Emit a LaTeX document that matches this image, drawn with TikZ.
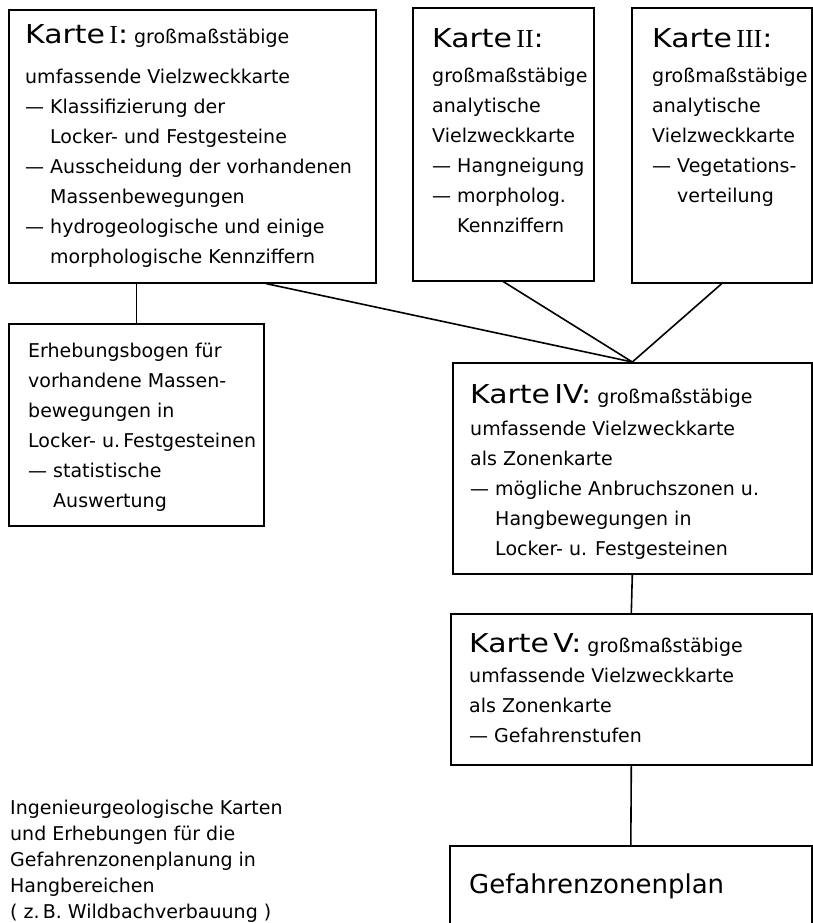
\documentclass[tikz,border=0pt]{standalone}
\usepackage{fontspec}
\setmainfont{DejaVu Sans}
\newfontfamily\titlefont[FakeStretch=1.15]{DejaVu Sans}
\newfontfamily\numfont{Liberation Serif}
\usetikzlibrary{calc,positioning}
\newcommand{\karte}[1]{{\titlefont\fontsize{26}{30}\selectfont Karte\,#1:}}
\newcommand{\rnum}[1]{{\numfont #1}}
\newcommand{\ein}{\phantom{— }}
\tikzset{
	box/.style={draw,line width=1.6pt,inner sep=0pt,anchor=north west},
	txt/.style={align=left,inner sep=0pt,anchor=base west,font=\fontsize{19}{30}\selectfont},
	link/.style={line width=1.6pt}
}

\begin{document}
\begin{tikzpicture}[x=1pt,y=-1pt]
			\useasboundingbox (0,0) rectangle (812,923);
			% Kastenrahmen
			\node[box,minimum width=367pt,minimum height=273pt] (k1) at (8,9) {};
			\node[box,minimum width=181pt,minimum height=273pt] (k2) at (412,7) {};
			\node[box,minimum width=180pt,minimum height=275pt] (k3) at (631,7) {};
			\node[box,minimum width=255pt,minimum height=202pt] (erh) at (8,323) {};
			\node[box,minimum width=359pt,minimum height=211pt] (k4) at (452,362) {};
			\node[box,minimum width=361pt,minimum height=151pt] (k5) at (450,613) {};
			\node[box,minimum width=362pt,minimum height=95pt] (plan) at (449,845) {};
			
			% Texte (base = letzte Zeile)
			\node[txt] (t1) at (25,263) {\karte{\rnum{I}} großmaßstäbige\\[10pt]
				umfassende Vielzweckkarte\\
				— Klassifizierung der\\
				\ein Locker- und Festgesteine\\
				— Ausscheidung der vorhandenen\\
				\ein Massenbewegungen\\
				— hydrogeologische und einige\\
				\ein morphologische Kennziffern};
			\node[txt] (t2) at (432,232) {\karte{\rnum{II}}\\[5pt]
				großmaßstäbige\\
				analytische\\
				Vielzweckkarte\\
				— Hangneigung\\
				— morpholog.\\
				\ein Kennziffern};
			\node[txt] (t3) at (652,202) {\karte{\rnum{III}}\\[5pt]
				großmaßstäbige\\
				analytische\\
				Vielzweckkarte\\
				— Vegetations-\\
				\ein verteilung};
			\node[txt] (t4) at (28,507) {Erhebungsbogen für\\
				vorhandene Massen-\\
				bewegungen in\\
				Locker- u.\,Festgesteinen\\
				— statistische\\
				\ein Auswertung};
			\node[txt] (t5) at (470,555) {\karte{IV} großmaßstäbige\\[2pt]
				umfassende Vielzweckkarte\\
				als Zonenkarte\\
				— mögliche Anbruchszonen u.\\
				\ein Hangbewegungen in\\
				\ein Locker- u. Festgesteinen};
			\node[txt] (t6) at (469,742) {\karte{V} großmaßstäbige\\
				umfassende Vielzweckkarte\\
				als Zonenkarte\\
				— Gefahrenstufen};
			\node[txt,font=\fontsize{26}{30}\selectfont] (t7) at (469,893) {Gefahrenzonenplan};
			\node[txt,font=\fontsize{19}{26}\selectfont] (note) at (10,918) {Ingenieurgeologische Karten\\
				und Erhebungen für die\\
				Gefahrenzonenplanung in\\
				Hangbereichen\\
				( z.\,B. Wildbachverbauung )};
			
			% Verbindungen
			\draw[link] (erh.north) -- (erh.north |- k1.south);
			\draw[link] ($(k1.south west)!0.7!(k1.south east)$) -- (k4.north);
			\draw[link] (k2.south) -- (k4.north);
			\draw[link] (k3.south) -- (k4.north);
			\draw[link] (k4.south) -- (k5.north);
			\draw[link] (k5.south) -- (plan.north);
		\end{tikzpicture}
\end{document}
